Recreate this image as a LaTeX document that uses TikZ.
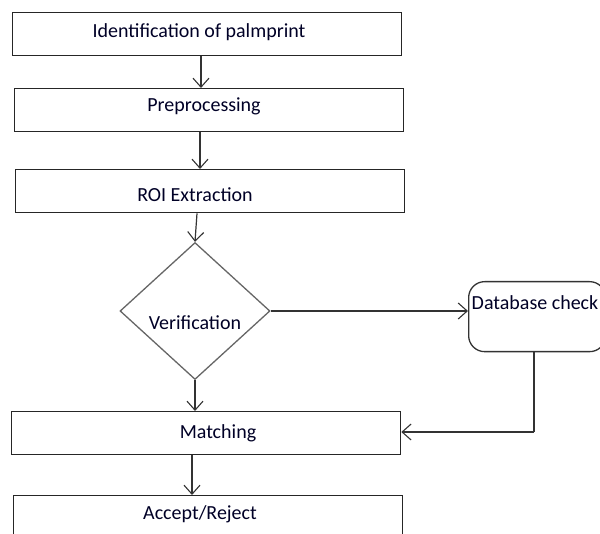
\documentclass[tikz,border=0pt]{standalone}
\usepackage{fontspec}
\setmainfont{Carlito}
\usetikzlibrary{arrows.meta,shapes.geometric}
\begin{document}
\begin{tikzpicture}[x=1pt,y=-1pt,
  every node/.style={font=\fontsize{20}{24}\selectfont, text=black!85!blue},
  box/.style={draw=black!85, line width=1.3pt, minimum width=389pt, minimum height=43pt, inner sep=0pt, anchor=north west},
  arr/.style={draw=black!80, line width=1.2pt, -{Straight Barb[length=9pt,width=16pt,line width=1.1pt]}},
  ln/.style={draw=black!80, line width=1.2pt}]
\useasboundingbox (0,0) rectangle (600,534);
\clip (0,0) rectangle (600,534);
% boxes
\node[box] (b1) at (12,12) {};
\node at (199,32.5) {Identification of palmprint};
\node[box] (b2) at (14,88) {};
\node at (204,106.5) {Preprocessing};
\node[box] (b3) at (15,169) {};
\node at (195,194.5) {ROI Extraction};
% diamond
\node[draw=black!60, line width=1.3pt, diamond, minimum width=150pt, minimum height=137pt, inner sep=0pt, aspect=1.095] (dia) at (195,311) {};
\node at (195,322.5) {Verification};
% database
\node[draw=black!80, line width=1.3pt, rounded corners=16pt, minimum width=137pt, minimum height=70pt, inner sep=0pt, anchor=north west] (db) at (468,281) {};
\node at (535,302.5) {Database check};
% matching
\node[box] (m) at (11,411) {};
\node at (218,433.5) {Matching};
% accept/reject
\node[box] (ar) at (13,495) {};
\node at (200,514.5) {Accept/Reject};
% connectors
\draw[arr] (b1.south -| 201,0) -- (b2.north -| 201,0);
\draw[arr] (b2.south -| 200,0) -- (b3.north -| 200,0);
\draw[arr] (b3.south -| 197,0) -- (dia.north);
\draw[arr] (dia.east) -- (db.west |- dia.east);
\draw[arr] (dia.south) -- (m.north -| dia.south);
\coordinate (turn) at (534,432);
\draw[ln] (db.south -| turn) -- (turn);
\draw[arr] (turn) -- (m.east |- turn);
\draw[arr] (m.south -| 192,0) -- (ar.north -| 192,0);
\end{tikzpicture}
\end{document}
